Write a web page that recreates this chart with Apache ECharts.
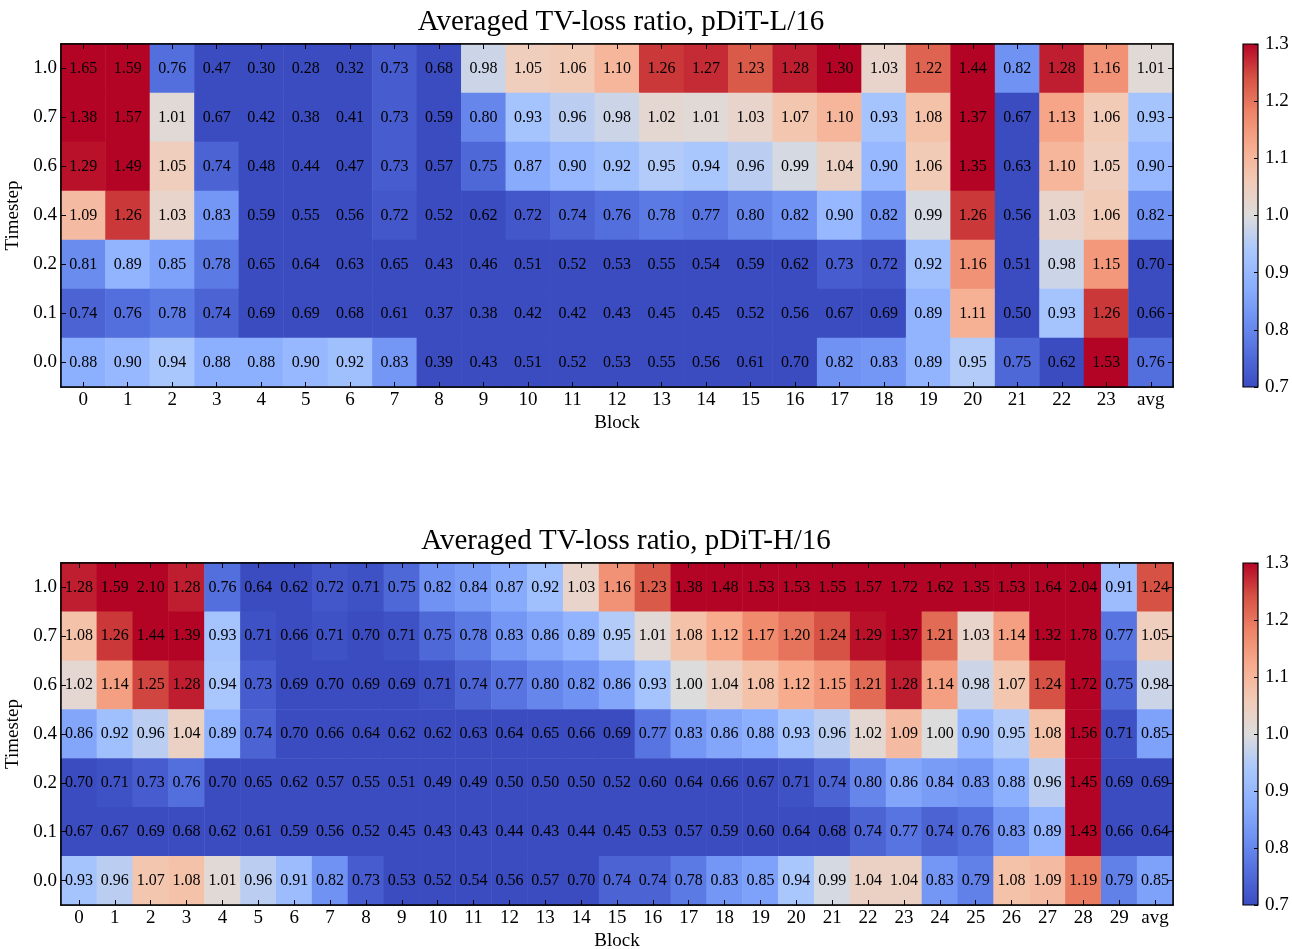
<!DOCTYPE html>
<html>
<head>
<meta charset="utf-8">
<script src="https://cdn.jsdelivr.net/npm/echarts@6/dist/echarts.min.js"></script>
<style>
  html, body { margin: 0; padding: 0; background: #fff; }
  #chart { width: 1292px; height: 949px; }
</style>
</head>
<body>
<div id="chart"></div>
<script>
var myChart = echarts.init(document.getElementById('chart'))

// timesteps, top row first (as in the picture)
var timesteps = ['1.0', '0.7', '0.6', '0.4', '0.2', '0.1', '0.0']

var blocksL = ['0','1','2','3','4','5','6','7','8','9','10','11','12','13','14','15','16','17','18','19','20','21','22','23','avg']
var blocksH = ['0','1','2','3','4','5','6','7','8','9','10','11','12','13','14','15','16','17','18','19','20','21','22','23','24','25','26','27','28','29','avg']

// pDiT-L/16, one row per timestep (1.0 ... 0.0)
var ratioL = [
  [1.65,1.59,0.76,0.47,0.30,0.28,0.32,0.73,0.68,0.98,1.05,1.06,1.10,1.26,1.27,1.23,1.28,1.30,1.03,1.22,1.44,0.82,1.28,1.16,1.01],
  [1.38,1.57,1.01,0.67,0.42,0.38,0.41,0.73,0.59,0.80,0.93,0.96,0.98,1.02,1.01,1.03,1.07,1.10,0.93,1.08,1.37,0.67,1.13,1.06,0.93],
  [1.29,1.49,1.05,0.74,0.48,0.44,0.47,0.73,0.57,0.75,0.87,0.90,0.92,0.95,0.94,0.96,0.99,1.04,0.90,1.06,1.35,0.63,1.10,1.05,0.90],
  [1.09,1.26,1.03,0.83,0.59,0.55,0.56,0.72,0.52,0.62,0.72,0.74,0.76,0.78,0.77,0.80,0.82,0.90,0.82,0.99,1.26,0.56,1.03,1.06,0.82],
  [0.81,0.89,0.85,0.78,0.65,0.64,0.63,0.65,0.43,0.46,0.51,0.52,0.53,0.55,0.54,0.59,0.62,0.73,0.72,0.92,1.16,0.51,0.98,1.15,0.70],
  [0.74,0.76,0.78,0.74,0.69,0.69,0.68,0.61,0.37,0.38,0.42,0.42,0.43,0.45,0.45,0.52,0.56,0.67,0.69,0.89,1.11,0.50,0.93,1.26,0.66],
  [0.88,0.90,0.94,0.88,0.88,0.90,0.92,0.83,0.39,0.43,0.51,0.52,0.53,0.55,0.56,0.61,0.70,0.82,0.83,0.89,0.95,0.75,0.62,1.53,0.76]
]

// pDiT-H/16
var ratioH = [
  [1.28,1.59,2.10,1.28,0.76,0.64,0.62,0.72,0.71,0.75,0.82,0.84,0.87,0.92,1.03,1.16,1.23,1.38,1.48,1.53,1.53,1.55,1.57,1.72,1.62,1.35,1.53,1.64,2.04,0.91,1.24],
  [1.08,1.26,1.44,1.39,0.93,0.71,0.66,0.71,0.70,0.71,0.75,0.78,0.83,0.86,0.89,0.95,1.01,1.08,1.12,1.17,1.20,1.24,1.29,1.37,1.21,1.03,1.14,1.32,1.78,0.77,1.05],
  [1.02,1.14,1.25,1.28,0.94,0.73,0.69,0.70,0.69,0.69,0.71,0.74,0.77,0.80,0.82,0.86,0.93,1.00,1.04,1.08,1.12,1.15,1.21,1.28,1.14,0.98,1.07,1.24,1.72,0.75,0.98],
  [0.86,0.92,0.96,1.04,0.89,0.74,0.70,0.66,0.64,0.62,0.62,0.63,0.64,0.65,0.66,0.69,0.77,0.83,0.86,0.88,0.93,0.96,1.02,1.09,1.00,0.90,0.95,1.08,1.56,0.71,0.85],
  [0.70,0.71,0.73,0.76,0.70,0.65,0.62,0.57,0.55,0.51,0.49,0.49,0.50,0.50,0.50,0.52,0.60,0.64,0.66,0.67,0.71,0.74,0.80,0.86,0.84,0.83,0.88,0.96,1.45,0.69,0.69],
  [0.67,0.67,0.69,0.68,0.62,0.61,0.59,0.56,0.52,0.45,0.43,0.43,0.44,0.43,0.44,0.45,0.53,0.57,0.59,0.60,0.64,0.68,0.74,0.77,0.74,0.76,0.83,0.89,1.43,0.66,0.64],
  [0.93,0.96,1.07,1.08,1.01,0.96,0.91,0.82,0.73,0.53,0.52,0.54,0.56,0.57,0.70,0.74,0.74,0.78,0.83,0.85,0.94,0.99,1.04,1.04,0.83,0.79,1.08,1.09,1.19,0.79,0.85]
]

var vmin = 0.7
var vmax = 1.3

// coolwarm
var coolwarm = ['#3b4cc0','#536edd','#6f92f3','#8db0fe','#aac7fd','#dddcdc','#f2cbb7','#f7ac8e','#ee8468','#d65244','#b40426']

var FONT = 'Liberation Serif'

function toCells(rows) {
  var out = []
  // category y axis runs bottom-up, so flip row index
  for (var r = 0; r < rows.length; r++) {
    for (var c = 0; c < rows[r].length; c++) {
      var v = rows[r][c]
      var clamped = Math.min(vmax, Math.max(vmin, v))
      out.push([c, rows.length - 1 - r, clamped, v])
    }
  }
  return out
}

var yCats = timesteps.slice().reverse()

function heatAxes(cols, gridIndex) {
  var tick = { show: true, inside: true, alignWithLabel: true, length: 5, lineStyle: { color: '#000', width: 1 } }
  var x = [
    {
      type: 'category', gridIndex: gridIndex, data: cols, position: 'bottom', z: 10,
      name: 'Block', nameLocation: 'middle', nameGap: 27,
      nameTextStyle: { fontFamily: FONT, fontSize: 19, color: '#000' },
      axisLine: { lineStyle: { color: '#000', width: 1.5 } },
      axisTick: tick,
      axisLabel: { interval: 0, margin: 4, fontFamily: FONT, fontSize: 19, color: '#000' },
      splitLine: { show: false }
    },
    {
      type: 'category', gridIndex: gridIndex, data: cols, position: 'top', z: 10,
      axisLine: { lineStyle: { color: '#000', width: 1.5 } },
      axisTick: tick, axisLabel: { show: false }, splitLine: { show: false }
    }
  ]
  var y = [
    {
      type: 'category', gridIndex: gridIndex, data: yCats, position: 'left', z: 10,
      name: 'Timestep', nameLocation: 'middle', nameGap: 36, nameRotate: 90,
      nameTextStyle: { fontFamily: FONT, fontSize: 19, color: '#000' },
      axisLine: { lineStyle: { color: '#000', width: 1.5 } },
      axisTick: tick,
      axisLabel: { interval: 0, margin: 4, fontFamily: FONT, fontSize: 19, color: '#000' },
      splitLine: { show: false }
    },
    {
      type: 'category', gridIndex: gridIndex, data: yCats, position: 'right', z: 10,
      axisLine: { lineStyle: { color: '#000', width: 1.5 } },
      axisTick: tick, axisLabel: { show: false }, splitLine: { show: false }
    }
  ]
  return { x: x, y: y }
}

function cbAxes(gridIndex) {
  return {
    x: { type: 'category', gridIndex: gridIndex, data: ['c'], show: false },
    y: {
      type: 'value', gridIndex: gridIndex, position: 'right', min: vmin, max: vmax, interval: 0.1, z: 10,
      axisLine: { show: false },
      axisTick: { show: true, inside: true, length: 4, lineStyle: { color: '#000' } },
      axisLabel: { margin: 7, fontFamily: FONT, fontSize: 19, color: '#000',
        formatter: function (v) { return v.toFixed(1) } },
      splitLine: { show: false }
    }
  }
}

var stops = coolwarm.map(function (c, i) { return { offset: i / (coolwarm.length - 1), color: c } })
function cbFill() { return new echarts.graphic.LinearGradient(0, 1, 0, 0, stops) }

var aL = heatAxes(blocksL, 0)
var aH = heatAxes(blocksH, 1)
var c0 = cbAxes(2)
var c1 = cbAxes(3)

function heatSeries(rows, xi, yi) {
  return {
    type: 'heatmap',
    xAxisIndex: xi, yAxisIndex: yi,
    data: toCells(rows),
    encode: { x: 0, y: 1, value: 2 },
    z: 2,
    itemStyle: { borderWidth: 0 },
    label: {
      show: true, color: '#000', fontFamily: FONT, fontSize: 16,
      formatter: function (p) { return p.value[3].toFixed(2) }
    },
    emphasis: { disabled: true },
    animation: false
  }
}

var gridBase = { outerBoundsMode: 'none', containLabel: false, show: true, borderColor: '#000' }

var option = {
  backgroundColor: '#fff',
  animation: false,
  title: [
    { text: 'Averaged TV-loss ratio, pDiT-L/16', left: 616, top: 3, textAlign: 'center',
      textStyle: { fontFamily: FONT, fontSize: 29, fontWeight: 'normal', color: '#000' } },
    { text: 'Averaged TV-loss ratio, pDiT-H/16', left: 621, top: 522, textAlign: 'center',
      textStyle: { fontFamily: FONT, fontSize: 29, fontWeight: 'normal', color: '#000' } }
  ],
  grid: [
    Object.assign({}, gridBase, { left: 61, top: 44, width: 1112, height: 343, borderWidth: 1.5, backgroundColor: 'transparent' }),
    Object.assign({}, gridBase, { left: 61, top: 563, width: 1112, height: 342, borderWidth: 1.5, backgroundColor: 'transparent' }),
    Object.assign({}, gridBase, { left: 1243, top: 44, width: 15, height: 343, borderWidth: 1.2, backgroundColor: cbFill() }),
    Object.assign({}, gridBase, { left: 1243, top: 563, width: 15, height: 342, borderWidth: 1.2, backgroundColor: cbFill() })
  ],
  xAxis: [aL.x[0], aL.x[1], aH.x[0], aH.x[1], c0.x, c1.x],
  yAxis: [aL.y[0], aL.y[1], aH.y[0], aH.y[1], c0.y, c1.y],
  visualMap: [
    { type: 'continuous', show: false, min: vmin, max: vmax, dimension: 2, seriesIndex: [0, 1],
      inRange: { color: coolwarm } }
  ],
  series: [
    heatSeries(ratioL, 0, 0),
    heatSeries(ratioH, 2, 2),
    { type: 'line', xAxisIndex: 4, yAxisIndex: 4, data: [], silent: true },
    { type: 'line', xAxisIndex: 5, yAxisIndex: 5, data: [], silent: true }
  ]
}

myChart.setOption(option)
</script>
</body>
</html>
